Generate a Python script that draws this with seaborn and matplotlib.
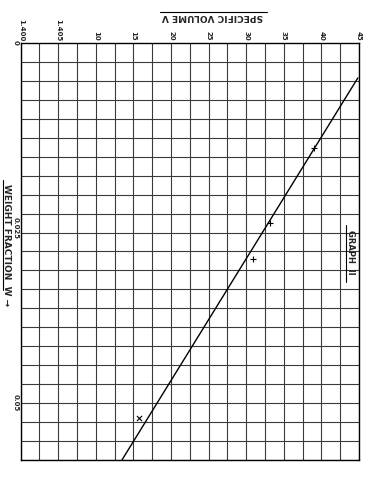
import numpy as np
import pandas as pd
import matplotlib
matplotlib.use("Agg")
import matplotlib.pyplot as plt
import seaborn as sns
from matplotlib.lines import Line2D
from matplotlib.ticker import FixedLocator

sns.set_style("white")
plt.rcParams['font.family'] = ['DejaVu Sans']

# ---- data ----
line_v = [1.44485, 1.41347]          # specific volume V, fitted line ends
line_w = [0.00494, 0.0589]           # weight fraction W
plus_v = [1.4390, 1.43315, 1.4309]   # "+" measured points
plus_w = [0.0148, 0.0254, 0.0305]
cross_v = [1.4157]                   # "x" measured point
cross_w = [0.0530]

xtick_vals = [1.400, 1.405, 1.410, 1.415, 1.420, 1.425, 1.430, 1.435, 1.440, 1.445]
xtick_labels = ["1.400", "1.405", "10", "15", "20", "25", "30", "35", "40", "45"]
ytick_vals = [0.0, 0.025, 0.05]
ytick_labels = ["0", "0.025", "0.05"]

x_min, x_max = 1.400, 1.445
y_max = 0.0589
n_cols, n_rows = 18, 22

line_df = pd.DataFrame({"V": line_v, "W": line_w})
plus_df = pd.DataFrame({"V": plus_v, "W": plus_w})
cross_df = pd.DataFrame({"V": cross_v, "W": cross_w})

fig = plt.figure(figsize=(3.86, 4.8), dpi=100)
ax = fig.add_axes([0.0536, 0.0417, 0.8764, 0.8688])

sns.lineplot(data=line_df, x="V", y="W", ax=ax, color="black", lw=1.0, sort=False)
sns.scatterplot(data=plus_df, x="V", y="W", ax=ax, marker="+", color="black", s=22, linewidth=0.8)
sns.scatterplot(data=cross_df, x="V", y="W", ax=ax, marker="x", color="black", s=14, linewidth=0.8)

ax.set_xlim(x_min, x_max)
ax.set_ylim(y_max, 0)

ax.xaxis.tick_top()
ax.set_xticks(xtick_vals)
ax.set_xticklabels(xtick_labels, rotation=270, fontsize=5, fontweight="bold")
ax.xaxis.set_minor_locator(FixedLocator(np.linspace(x_min, x_max, n_cols + 1)))
ax.set_yticks(ytick_vals)
ax.set_yticklabels(ytick_labels, rotation=270, fontsize=5, fontweight="bold")
ax.yaxis.set_minor_locator(FixedLocator(np.linspace(0, y_max, n_rows + 1)))
ax.tick_params(axis="both", which="both", length=0, pad=1.5)
ax.xaxis.grid(True, which="both", color="#3a3a3a", lw=0.8)
ax.yaxis.grid(False, which="major")
ax.yaxis.grid(True, which="minor", color="#3a3a3a", lw=0.8)
ax.set_xlabel("")
ax.set_ylabel("")

for side in ["top", "left", "right", "bottom"]:
    ax.spines[side].set_color("black")
    ax.spines[side].set_linewidth(1.0)

# titles / annotations
fig.text(212 / 386, 1 - 17 / 480, "SPECIFIC VOLUME V", rotation=180, ha="center", va="center",
         fontsize=6.5, fontweight="bold")
fig.add_artist(Line2D([160 / 386, 267 / 386], [1 - 12 / 480, 1 - 12 / 480], color="black", lw=0.8))

fig.text(6 / 386, 1 - 245 / 480, "WEIGHT FRACTION  W \u2192", rotation=270, ha="center", va="center",
         fontsize=6.5, fontweight="bold")
fig.add_artist(Line2D([2.5 / 386, 2.5 / 386], [1 - 180 / 480, 1 - 290 / 480], color="black", lw=0.8))

fig.text(351 / 386, 1 - 252 / 480, "GRAPH  II", rotation=270, ha="center", va="center",
         fontsize=6, fontweight="bold")
fig.add_artist(Line2D([346 / 386, 346 / 386], [1 - 225 / 480, 1 - 282 / 480], color="black", lw=0.8))

fig.savefig("out.png", dpi=100, facecolor="white")
